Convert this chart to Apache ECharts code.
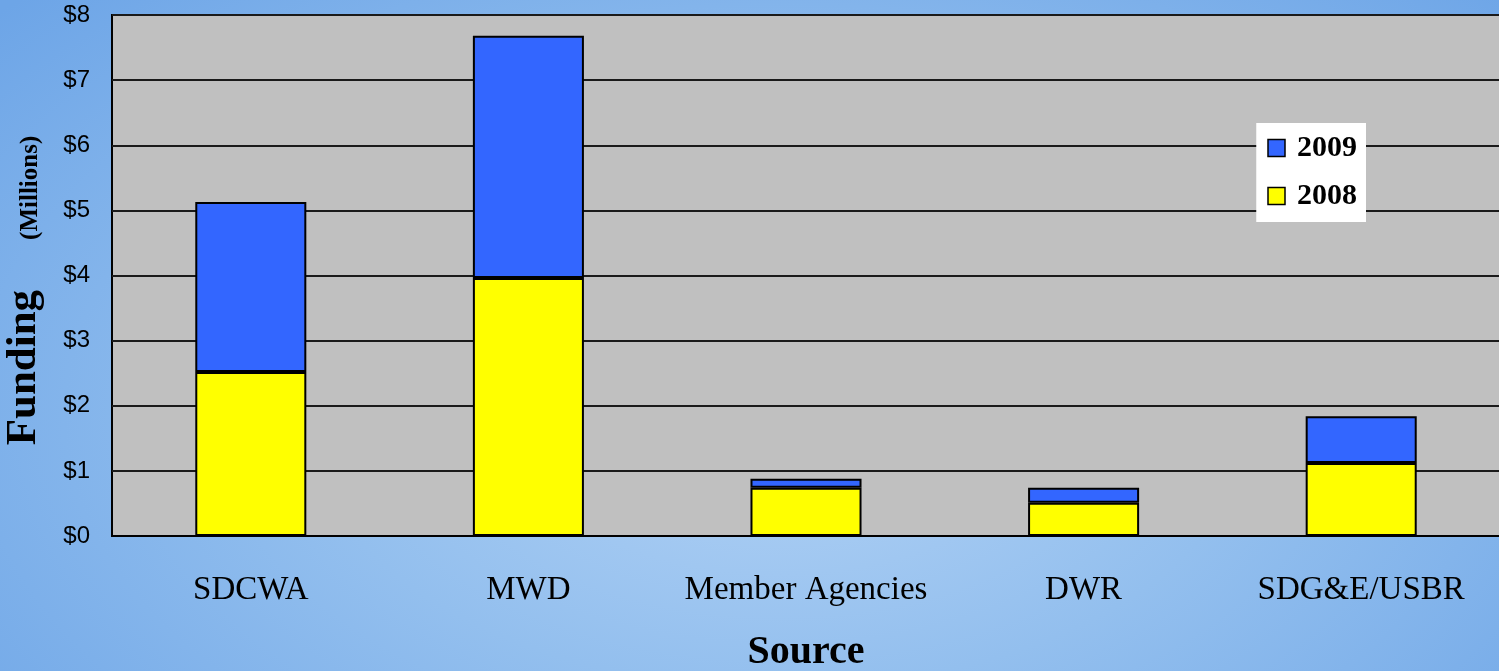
<!DOCTYPE html>
<html>
<head>
<meta charset="utf-8">
<script src="https://cdn.jsdelivr.net/npm/echarts@6/dist/echarts.min.js"></script>
<style>
  html, body { margin: 0; padding: 0; }
  body {
    width: 1499px; height: 671px; overflow: hidden;
    background: radial-gradient(ellipse 70% 90% at 52% 62%, #b2d2f5 0%, #93bfee 45%, #6da5e7 100%);
  }
  #chart { width: 1499px; height: 671px; }
</style>
</head>
<body>
<div id="chart"></div>
<script>
// 数据
const categories = ['SDCWA', 'MWD', 'Member Agencies', 'DWR', 'SDG&E/USBR'];
const funding2008 = [2.52, 3.96, 0.74, 0.51, 1.12];
const funding2009 = [2.61, 3.72, 0.14, 0.23, 0.72];
const yTicks = [0, 1, 2, 3, 4, 5, 6, 7, 8];

const chart = echarts.init(document.getElementById('chart'));

const serif = '"Liberation Serif", "DejaVu Serif", serif';
const barBorder = { borderColor: '#000', borderWidth: 2 };

chart.setOption({
    backgroundColor: 'transparent',
    animation: false,
    grid: {
        left: 112, top: 15, right: -1, bottom: 135,
        outerBoundsMode: 'none',
        containLabel: false,
        show: true,
        backgroundColor: '#c0c0c0',
        borderColor: '#000',
        borderWidth: 2
    },
    legend: {
        data: ['2009', '2008'],
        orient: 'vertical',
        right: 133, top: 123,
        backgroundColor: '#fff',
        padding: [10, 9, 11, 11],
        itemGap: 18,
        itemWidth: 17, itemHeight: 17,
        icon: 'rect',
        itemStyle: { borderColor: '#000', borderWidth: 1.5 },
        textStyle: { fontFamily: serif, fontWeight: 'bold', fontSize: 30, color: '#000', padding: [0, 0, 0, 7] }
    },
    xAxis: {
        type: 'category',
        data: categories,
        name: 'Source',
        nameLocation: 'middle',
        nameGap: 97,
        nameTextStyle: { fontFamily: serif, fontWeight: 'bold', fontSize: 40, color: '#000' },
        axisLine: { lineStyle: { color: '#000', width: 2 } },
        axisTick: { show: false },
        axisLabel: { interval: 0, fontFamily: serif, fontSize: 33, color: '#000', margin: 38 }
    },
    yAxis: {
        type: 'value',
        min: 0, max: yTicks[yTicks.length - 1], interval: 1,
        name: '{a|Funding}{s| }{b|(Millions)}',
        nameLocation: 'middle',
        nameGap: 67,
        nameTextStyle: {
            padding: [0, 30, 0, 0],
            rich: {
                a: { fontFamily: serif, fontWeight: 'bold', fontSize: 43, color: '#000', verticalAlign: 'bottom' },
                s: { width: 50, fontSize: 12 },
                b: { fontFamily: serif, fontWeight: 'bold', fontSize: 25, color: '#000', verticalAlign: 'bottom', padding: [0, 0, 2, 0] }
            }
        },
        axisLine: { show: false },
        axisTick: { show: false },
        axisLabel: {
            formatter: v => '$' + v,
            fontFamily: '"Liberation Sans", Arial, sans-serif',
            fontSize: 24, color: '#000', margin: 22,
            padding: [6, 0, 0, 0]
        },
        splitLine: { lineStyle: { color: '#1a1a1a', width: 2 } }
    },
    series: [
        {
            name: '2008', type: 'bar', stack: 'total',
            data: funding2008,
            barWidth: '40%',
            itemStyle: Object.assign({ color: '#ffff00' }, barBorder)
        },
        {
            name: '2009', type: 'bar', stack: 'total',
            data: funding2009,
            barWidth: '40%',
            itemStyle: Object.assign({ color: '#3366ff' }, barBorder)
        }
    ]
});
</script>
</body>
</html>
